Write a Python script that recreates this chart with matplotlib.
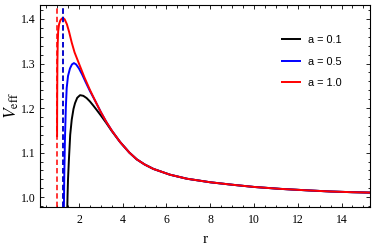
import matplotlib
matplotlib.use("Agg")
import matplotlib.pyplot as plt
from matplotlib.ticker import MultipleLocator

# ---- data ----
labels = ["a = 0.1", "a = 0.5", "a = 1.0"]
colors = ["black", "blue", "red"]

r_tail = [3.88, 4.30, 4.64, 5.00, 5.40, 6.16, 6.93, 8.00, 9.00, 10.0, 11.2, 12.5, 13.5, 14.5, 15.3]
v_tail = [1.1238, 1.1003, 1.085, 1.0735, 1.0635, 1.0505, 1.0415, 1.0335, 1.028, 1.023, 1.0187, 1.0152, 1.0128, 1.0112, 1.0103]

r_black = [1.455, 1.48, 1.50, 1.54, 1.60, 1.67, 1.75, 1.82, 1.92, 2.05, 2.20, 2.35, 2.50, 2.65, 2.80, 3.00, 3.25, 3.50] + r_tail
v_black = [0.950, 1.005, 1.040, 1.083, 1.140, 1.174, 1.198, 1.211, 1.223, 1.229, 1.2275, 1.2225, 1.215, 1.206, 1.1965, 1.1835, 1.1665, 1.1485] + v_tail

r_blue = [1.305, 1.33, 1.36, 1.40, 1.44, 1.50, 1.59, 1.68, 1.77, 1.87, 2.00, 2.15, 2.30, 2.50, 2.75, 3.00, 3.25, 3.50] + r_tail
v_blue = [0.950, 1.050, 1.130, 1.200, 1.245, 1.272, 1.289, 1.298, 1.301, 1.298, 1.289, 1.275, 1.259, 1.2385, 1.2155, 1.191, 1.169, 1.1496] + v_tail

r_red = [1.000, 1.005, 1.015, 1.03, 1.05, 1.09, 1.15, 1.22, 1.28, 1.35, 1.45, 1.55, 1.67, 1.80, 2.00, 2.25, 2.50, 2.75, 3.00, 3.25, 3.50] + r_tail
v_red = [1.135, 1.220, 1.300, 1.345, 1.372, 1.388, 1.397, 1.401, 1.402, 1.399, 1.388, 1.371, 1.347, 1.325, 1.300, 1.269, 1.241, 1.2155, 1.191, 1.169, 1.1496] + v_tail

# vertical dashed markers (horizon positions)
r_dash = [1.29, 1.26, 0.985]

xticks = [2, 4, 6, 8, 10, 12, 14]
yticks = [1.0, 1.1, 1.2, 1.3, 1.4]

# ---- plot ----
plt.rcParams['mathtext.fontset'] = 'stix'
fig = plt.figure(figsize=(3.74, 2.48), dpi=100)
ax = fig.add_axes([40/374, 1-207/248, 330/374, 202.5/248])

curves = [(r_black, v_black), (r_blue, v_blue), (r_red, v_red)]
for (r, v), c, lab in zip(curves, colors, labels):
    ax.plot(r, v, color=c, lw=1.4, label=lab, solid_capstyle='butt')

for x, c in zip(r_dash, colors):
    ax.axvline(x, color=c, lw=1.1, dashes=(3.5, 2.0))

ax.set_xlim(0.22, 15.3)
ax.set_ylim(0.978, 1.4325)
ax.set_xticks(xticks)
ax.set_yticks(yticks)
ax.set_xticklabels([str(t) for t in xticks])
ax.set_yticklabels([f"{t:.1f}" for t in yticks])
ax.xaxis.set_minor_locator(MultipleLocator(0.5))
ax.yaxis.set_minor_locator(MultipleLocator(0.02))
ax.tick_params(which='both', direction='in', top=True, right=True, width=0.6)
ax.tick_params(which='major', length=3.2, labelsize=8.5)
ax.tick_params(axis='x', which='major', pad=5)
ax.tick_params(axis='y', which='major', pad=3)
ax.tick_params(which='minor', length=1.8)
for lab in ax.get_xticklabels() + ax.get_yticklabels():
    lab.set_family('Liberation Serif')
for s in ax.spines.values():
    s.set_linewidth(0.8)

ax.set_xlabel("r", family='Liberation Serif', fontsize=11, labelpad=5)
ax.set_ylabel(r"$V_{\mathrm{eff}}$", fontsize=12.5, labelpad=0)

leg = ax.legend(loc='upper left', bbox_to_anchor=(0.715, 0.875), frameon=False, borderpad=0,
                prop={'family': 'Liberation Sans', 'size': 7.8},
                handlelength=1.85, handletextpad=0.6, labelspacing=1.05)

fig.savefig("out.png", dpi=100)
